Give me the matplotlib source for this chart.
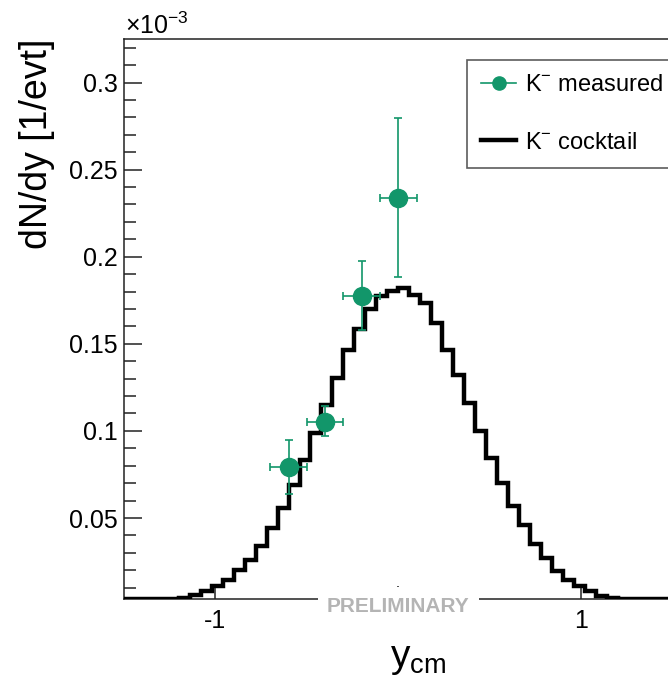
import numpy as np
import matplotlib
matplotlib.use("Agg")
import matplotlib.pyplot as plt
from matplotlib.lines import Line2D
from matplotlib.ticker import MultipleLocator, FixedLocator, FixedFormatter, FuncFormatter
import matplotlib.transforms as mtransforms

plt.rcParams['font.family'] = ['Liberation Sans', 'DejaVu Sans']
plt.rcParams['mathtext.fontset'] = 'custom'
plt.rcParams['mathtext.rm'] = 'Liberation Sans'
plt.rcParams['mathtext.it'] = 'Liberation Sans:italic'
plt.rcParams['mathtext.bf'] = 'Liberation Sans:bold'
plt.rcParams['axes.unicode_minus'] = False

# ---- data (dN/dy in units of 1e-3 per event) ----
bin_lo, bin_hi, n_bins = -1.5, 1.5, 50
cocktail = [0.0, 0.0, 0.0, 0.0, 0.002, 0.004,
            0.006, 0.008, 0.011, 0.0145, 0.020, 0.026, 0.034, 0.044, 0.056, 0.069,
            0.0835, 0.099, 0.115, 0.1305, 0.1467, 0.1585, 0.170, 0.1775, 0.1805, 0.182,
            0.178, 0.1733, 0.162, 0.1467, 0.132, 0.116, 0.100, 0.0845, 0.070, 0.057,
            0.046, 0.035, 0.027, 0.0196, 0.0145, 0.011, 0.008, 0.0055, 0.004,
            0.002, 0.0, 0.0, 0.0, 0.0]

meas_y_cm = [-0.6, -0.4, -0.2, 0.0]
meas_dndy = [0.0795, 0.1054, 0.1777, 0.2338]
meas_xerr = [0.1, 0.1, 0.1, 0.1]
meas_yerr_lo = [0.0157, 0.0082, 0.0197, 0.0456]
meas_yerr_hi = [0.0155, 0.0089, 0.0200, 0.0461]

x_ticks = [-1, 0, 1]
x_tick_labels = ['-1', '', '1']   # the '0' label is hidden under the PRELIMINARY stamp

green = '#12966a'
ymin, ymax = 0.0035, 0.325

fig = plt.figure(figsize=(6.68, 6.89), dpi=100)
W, H = 668.0, 689.0
ax_l, ax_r, ax_t, ax_b = 124.0, 672.5, 39.0, 599.0
ax = fig.add_axes([ax_l / W, 1 - ax_b / H, (ax_r - ax_l) / W, (ax_b - ax_t) / H])

edges = np.linspace(bin_lo, bin_hi, n_bins + 1)
vals = np.clip(np.asarray(cocktail), ymin, None)
ax.stairs(vals, edges, baseline=None, color='black', lw=3.2, zorder=3)

ax.errorbar(meas_y_cm, meas_dndy, xerr=meas_xerr,
            yerr=[meas_yerr_lo, meas_yerr_hi], fmt='o', color=green,
            ms=13, elinewidth=1.2, capsize=3.0, capthick=1.2, zorder=4)

ax.set_xlim(bin_lo, bin_hi)
ax.set_ylim(ymin, ymax)

ax.xaxis.set_major_locator(FixedLocator(x_ticks))
ax.xaxis.set_major_formatter(FixedFormatter(x_tick_labels))
ax.yaxis.set_major_locator(MultipleLocator(0.05))
ax.yaxis.set_minor_locator(MultipleLocator(0.01))
ax.yaxis.set_major_formatter(FuncFormatter(lambda v, p: '%g' % round(v, 3)))
ax.tick_params(axis='y', which='major', direction='in', length=13, width=1.1,
               labelsize=18, pad=4.5, right=False, colors='#222222', labelcolor='black')
ax.tick_params(axis='y', which='minor', direction='in', length=8.5, width=1.1,
               right=False, colors='#222222')
ax.tick_params(axis='x', which='major', direction='in', length=9.5, width=1.1,
               labelsize=18, pad=7, top=False, colors='#222222', labelcolor='black')
for s in ax.spines.values():
    s.set_linewidth(1.1)
    s.set_color('#222222')

ax.set_ylabel('dN/dy [1/evt]', fontsize=27, loc='top')
ax.yaxis.set_label_coords((55 - ax_l) / (ax_r - ax_l), 1.0)
ax.set_xlabel(r'y$_{\mathregular{cm}}$', fontsize=28)
ax.xaxis.set_label_coords((418 - ax_l) / (ax_r - ax_l), -0.075)

fig.text(125 / W, 1 - 34 / H, r'$\times$10$^{-3}$', fontsize=18, ha='left', va='baseline')

trans = mtransforms.blended_transform_factory(ax.transData, ax.transAxes)
ax.text(0.0, -0.013, 'PRELIMINARY', transform=trans, ha='center', va='center',
        fontsize=15, fontweight='bold', color='#b4b4b4', zorder=6,
        bbox=dict(boxstyle='square', pad=0.45, fc='white', ec='none'))

handles = [Line2D([], [], color=green, marker='o', ms=9.5, lw=1.2),
           Line2D([], [], color='black', lw=3.2)]
labels = [r'K$^{-}$ measured', r'K$^{-}$ cocktail']
leg = fig.legend(handles, labels, loc='upper left',
                 bbox_to_anchor=(466.7 / W, 1 - 60 / H), bbox_transform=fig.transFigure,
                 fontsize=17, frameon=True, fancybox=False, shadow=False,
                 handlelength=1.5, handletextpad=0.35, borderpad=0.6,
                 labelspacing=1.5, borderaxespad=0.0)
leg.get_frame().set_edgecolor('#333333')
leg.get_frame().set_linewidth(1.2)

fig.savefig('out.png', dpi=100)
